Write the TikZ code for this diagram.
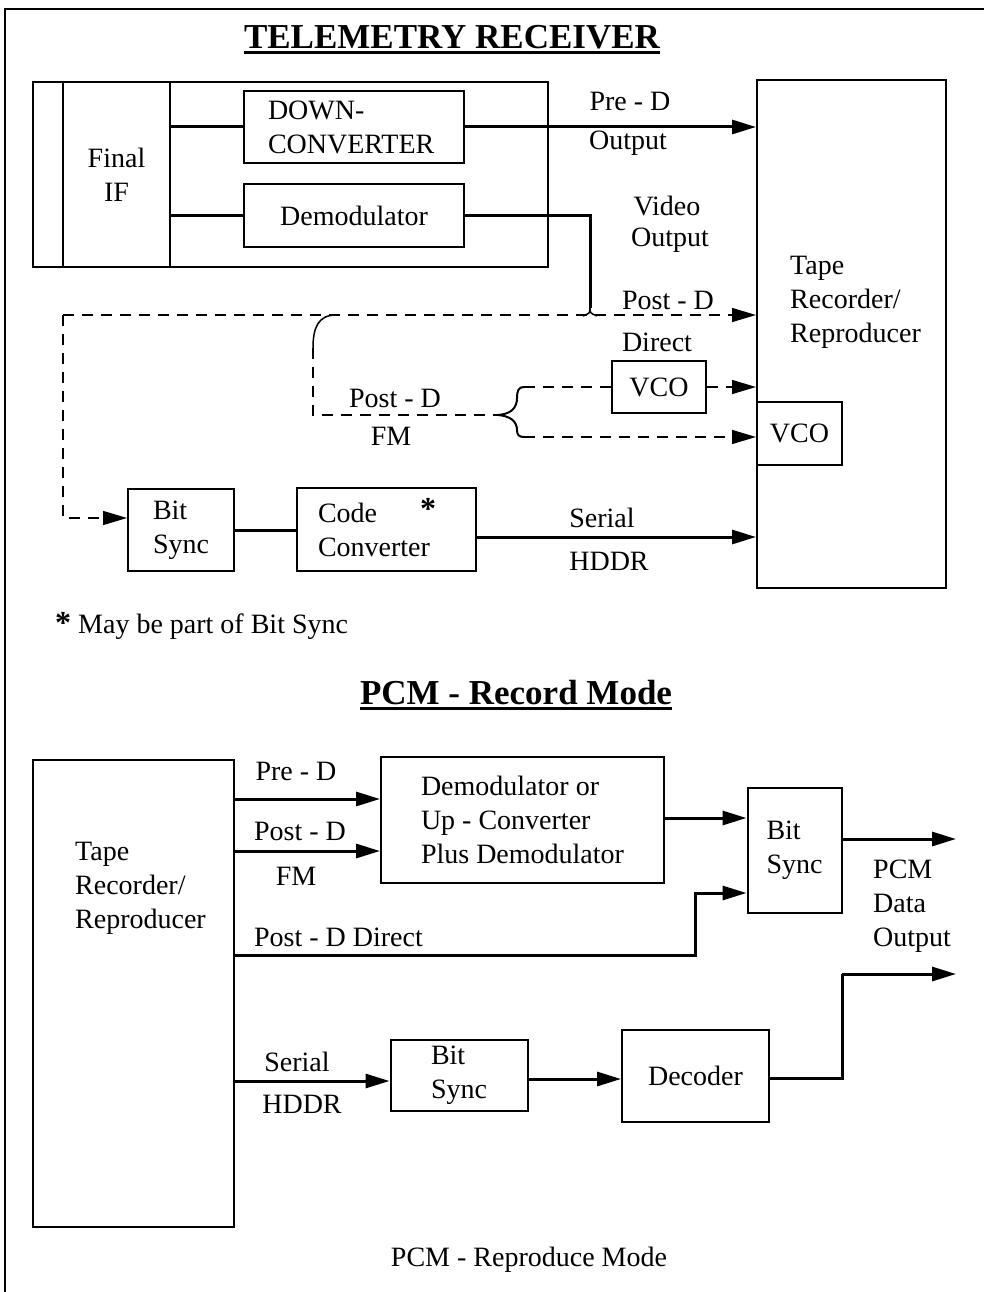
\documentclass[tikz,border=0pt]{standalone}
\usepackage{fontspec}
\setmainfont{Liberation Serif}
\usetikzlibrary{arrows.meta}
\begin{document}
\begin{tikzpicture}[x=1pt,y=-1pt,
  every node/.style={font=\fontsize{28}{34}\selectfont, inner sep=0pt},
  box/.style={draw, line width=2pt, align=left},
  conn/.style={line width=3pt},
  tip/.style={-{Triangle[length=24pt,width=14pt]}},
  arr/.style={conn, tip},
  dsh/.style={line width=1.3pt, dash pattern=on 11pt off 8pt},
  darr/.style={dsh, tip},
  ttl/.style={font=\bfseries\fontsize{35}{40}\selectfont},
  uline/.style={line width=3pt}
]
\useasboundingbox (0,0) rectangle (984,1292);
% outer frame
\draw[line width=2.5pt] (5,1292) -- (5,9) -- (984,9);

% ---------- TELEMETRY RECEIVER ----------
\node[ttl] (t1) at (452,37.5) {TELEMETRY RECEIVER};
\draw[uline] ([yshift=-4pt]t1.base west) -- ([yshift=-4pt]t1.base east);

\node[box, minimum width=515pt, minimum height=185pt] (rx) at (290.5,174.5) {};
\node[box, minimum width=107pt, minimum height=185pt, align=center] (fif) at (116.5,174.5) {Final\\IF};
\node[box, minimum width=220pt, minimum height=72pt, text width=172pt] (dc) at (354,127) {DOWN-\\CONVERTER};
\node[box, minimum width=220pt, minimum height=63pt] (dm) at (354,215.5) {Demodulator};
\draw[conn] (fif.east |- dc.west) -- (dc.west);
\draw[conn] (fif.east |- dm.west) -- (dm.west);

\node[box, minimum width=189pt, minimum height=508pt] (tr) at (851.5,334) {};
\node[anchor=west, align=left] (trt) at (790,302) {Tape\\Recorder/\\Reproducer};

\draw[arr] (dc.east) -- (dc.east -| tr.west);
\node (l1) at (630,101) {Pre - D};
\node (l2) at (628,143) {Output};
\node (l3) at (667,206) {Video};
\node (l4) at (670,240) {Output};

% demodulator output to junction
\coordinate (jv) at (590,308);
\draw[conn] (dm.east) -| (jv);
\draw[line width=1.5pt] (jv) .. controls (590,313) .. (583,316);
\draw[line width=1.5pt] (jv) .. controls (590,313) .. (597,316);

% dashed Post-D direct line
\coordinate (c1) at (63,315);
\coordinate (c2) at (63,518);
\draw[darr] (c1) -- (c1 -| tr.west);
\node (l5) at (668,300) {Post - D};
\node (l6) at (657,342) {Direct};

\node[box, minimum width=106pt, minimum height=82pt] (bs1) at (181,530) {Bit\\Sync};
\draw[darr] (c1) -- (c2) -- (c2 -| bs1.west);

% branch to Post-D FM
\coordinate (b0) at (336,315);
\coordinate (b1) at (313,348);
\coordinate (b2) at (313,415);
\coordinate (bt) at (498,415);
\draw[line width=1.5pt] (b0) .. controls (318,315) and (313,328) .. (b1);
\draw[dsh] (b1) -- (b2) -- (bt);
\node (l7) at (395,398) {Post - D};
\node (l8) at (391,436) {FM};

\coordinate (bu) at (524,387);
\coordinate (bl) at (524,437);
\draw[line width=2pt] (bt) .. controls (511,414) and (517,408) .. (517,398) .. controls (517,390) and (519,387) .. (bu);
\draw[line width=2pt] (bt) .. controls (511,416) and (517,422) .. (517,430) .. controls (517,435) and (519,437) .. (bl);

\node[box, minimum width=94pt, minimum height=52pt] (vco1) at (659,387) {VCO};
\node[box, fill=white, minimum width=85pt, minimum height=63pt] (vco2) at (799.5,433.5) {VCO};
\draw[dsh] (bu) -- (vco1.west);
\draw[darr] (vco1.east) -- (vco1.east -| tr.west);
\draw[darr] (bl) -- (bl -| vco2.west);

% Bit sync / code converter
\node[box, minimum width=179pt, minimum height=83pt, text width=137pt] (cc) at (386.5,529.5) {Code\\Converter};
\node[anchor=base, font=\bfseries\fontsize{32}{34}\selectfont] (ast) at (428,519) {*};
\draw[conn] (bs1.east) -- (bs1.east -| cc.west);
\coordinate (s1) at (476,537);
\draw[arr] (s1) -- (s1 -| tr.west);
\node (l9) at (602,518) {Serial};
\node (l10) at (609,561) {HDDR};

\node[anchor=west] (fn) at (55,626) {{\bfseries\fontsize{32}{34}\selectfont *} May be part of Bit Sync};

% ---------- PCM - Record Mode ----------
\node[ttl] (t2) at (516,693) {PCM - Record Mode};
\draw[uline] ([yshift=-4pt]t2.base west) -- ([yshift=-4pt]t2.base east);

\node[box, minimum width=201pt, minimum height=467pt] (tb) at (133.5,993.5) {};
\node[anchor=west, align=left] (tbt) at (75,888) {Tape\\Recorder/\\Reproducer};

\node[box, minimum width=283pt, minimum height=126pt] (dm2) at (522.5,820) {Demodulator or\\Up - Converter\\Plus Demodulator};
\node[box, minimum width=94pt, minimum height=125pt] (bs2) at (794.5,850) {Bit\\Sync};

\coordinate (p1) at (234,799);
\coordinate (p2) at (234,851);
\coordinate (p3) at (234,955);
\coordinate (p3b) at (695,955);
\coordinate (p3c) at (695,893);
\coordinate (p4) at (234,1081);
\draw[arr] (p1) -- (p1 -| dm2.west);
\draw[arr] (p2) -- (p2 -| dm2.west);
\node (m1) at (296,771) {Pre - D};
\node (m2) at (300,831) {Post - D};
\node (m3) at (296,876) {FM};
\draw[arr] (dm2.east |- 0,818) -- (bs2.west |- 0,818);
\draw[arr] (p3) -- (p3b) -- (p3c) -- (p3c -| bs2.west);
\node (m4) at (338.5,937) {Post - D Direct};

\coordinate (o1) at (956,839);
\draw[arr] (o1 -| bs2.east) -- (o1);
\node[anchor=west, align=left] (m5) at (873,906) {PCM\\Data\\Output};

\node[box, minimum width=137pt, minimum height=71pt] (bs3) at (459,1075.5) {Bit\\Sync};
\node[box, minimum width=147pt, minimum height=92pt] (dec) at (695.5,1075.5) {Decoder};
\draw[arr] (p4) -- (p4 -| bs3.west);
\node (m6) at (297,1062) {Serial};
\node (m7) at (302,1104) {HDDR};
\draw[arr] (bs3.east |- 0,1079) -- (dec.west |- 0,1079);

\coordinate (d1) at (842,1078);
\coordinate (o2) at (956,974);
\draw[conn] (dec.east |- d1) -- (d1) -- (d1 |- o2);
\draw[arr] (d1 |- o2) -- (o2);

\node (t3) at (529,1260) {PCM - Reproduce Mode};
\end{tikzpicture}
\end{document}
